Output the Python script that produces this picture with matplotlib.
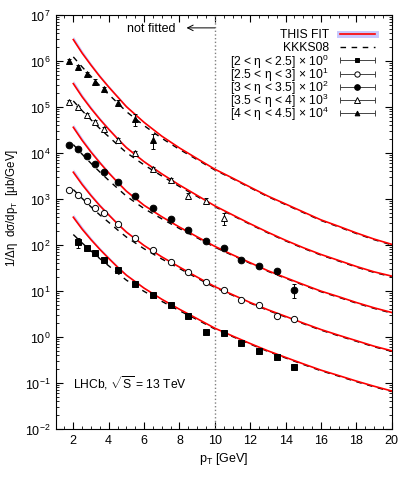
import numpy as np
import matplotlib
matplotlib.use('Agg')
import matplotlib.pyplot as plt
from matplotlib.ticker import MultipleLocator, LogLocator, NullFormatter

plt.rcParams['font.family'] = ['Liberation Sans', 'DejaVu Sans']
plt.rcParams['mathtext.fontset'] = 'custom'
plt.rcParams['mathtext.rm'] = 'Liberation Sans'
plt.rcParams['mathtext.it'] = 'Liberation Sans:italic'
plt.rcParams['mathtext.bf'] = 'Liberation Sans:bold'

# data points, values as plotted (already multiplied by 10^k)
pt_g1 = [2.25, 2.75, 3.25, 3.75, 4.5, 5.5, 6.5, 7.5, 8.5, 9.5, 10.5, 11.5, 12.5, 13.5, 14.5]
g1 = [115, 85, 66, 47, 29, 14.2, 8.3, 5.0, 2.9, 1.26, 1.2, 0.73, 0.50, 0.37, 0.22]
g1_err = [0.25, 0.12, 0.1, 0.08, 0.06, 0.06, 0.06, 0.06, 0.06, 0.06, 0.06, 0.08, 0.08, 0.1, 0.15]

pt_g2 = [1.75, 2.25, 2.75, 3.25, 3.75, 4.5, 5.5, 6.5, 7.5, 8.5, 9.5, 10.5, 11.5, 12.5, 13.5, 14.5]
g2 = [1600, 1230, 910, 630, 500, 280, 140, 79, 42, 26, 15.5, 10.3, 6.5, 5.0, 2.9, 2.45]
g2_err = [0.06] * 16

pt_g3 = [1.75, 2.25, 2.75, 3.25, 3.75, 4.5, 5.5, 6.5, 7.5, 8.5, 9.5, 10.5, 11.5, 12.5, 13.5, 14.5]
g3 = [15000, 12000, 8400, 5800, 3900, 2300, 1170, 630, 370, 210, 124, 85, 47, 35, 27, 10.7]
g3_err = [0.05] * 14 + [0.12, 0.35]

pt_g4 = [1.75, 2.25, 2.75, 3.25, 3.75, 4.5, 5.5, 6.5, 7.5, 8.5, 9.5, 10.5]
g4 = [130000, 98000, 68000, 47000, 33000, 19500, 10000, 4500, 2600, 1170, 910, 380]
g4_err = [0.06, 0.06, 0.08, 0.1, 0.08, 0.1, 0.1, 0.12, 0.12, 0.15, 0.15, 0.3]

pt_g5 = [1.75, 2.25, 2.75, 3.25, 3.75, 4.5, 5.5, 6.5]
g5 = [1.0e6, 7.3e5, 5.2e5, 3.5e5, 2.4e5, 1.2e5, 5.5e4, 1.9e4]
g5_err = [0.08, 0.12, 0.1, 0.15, 0.1, 0.15, 0.3, 0.35]

# curves
pt_fit = [2, 2.5, 3, 3.5, 4, 4.5, 5, 6, 7, 8, 9, 10, 11, 12, 13, 14, 15, 16, 17, 18, 19, 20]
fit_g1 = [400, 220, 130, 80, 51, 33, 22, 11.5, 6.6, 4.0, 2.5, 1.55, 1.05, 0.72, 0.50, 0.36, 0.26, 0.19, 0.145, 0.11, 0.085, 0.067]
fit_g2 = [3800, 2050, 1180, 710, 450, 287, 190, 97, 55, 33, 20, 12.4, 8.3, 5.6, 3.9, 2.8, 2.0, 1.45, 1.09, 0.83, 0.63, 0.50]
fit_g3 = [36000, 18700, 10400, 6100, 3670, 2300, 1470, 725, 410, 244, 150, 93, 61, 41, 27.5, 19.4, 13.8, 9.9, 7.5, 5.6, 4.3, 3.4]
fit_g4 = [3.2e5, 1.65e5, 9.2e4, 5.36e4, 3.26e4, 2.03e4, 1.3e4, 6440, 3500, 2000, 1190, 705, 450, 288, 188, 126, 87, 62, 46, 34, 26, 21]
fit_g5 = [2.9e6, 1.47e6, 8.06e5, 4.56e5, 2.7e5, 1.65e5, 1.01e5, 4.6e4, 2.31e4, 1.28e4, 7500, 4420, 2835, 1800, 1150, 774, 520, 350, 254, 182, 134, 103]
# uncertainty band (relative) of the fit
band_rel = [0.18, 0.15, 0.12, 0.10, 0.09, 0.08, 0.07, 0.05, 0.04, 0.03, 0.03, 0.02, 0.02, 0.02, 0.02, 0.02, 0.02, 0.02, 0.02, 0.02, 0.02, 0.02]
# KKKS08 relative to the fit
kkks_ratio = [0.42, 0.50, 0.57, 0.63, 0.69, 0.74, 0.78, 0.85, 0.90, 0.93, 0.95, 0.96, 0.97, 0.97, 0.97, 0.97, 0.97, 0.97, 0.97, 0.97, 0.97, 0.97]

labels = ['[2 < η < 2.5] × 10$^0$', '[2.5 < η < 3] × 10$^1$', '[3 < η < 3.5] × 10$^2$',
          '[3.5 < η < 4] × 10$^3$', '[4 < η < 4.5] × 10$^4$']

groups = [(pt_g1, g1, g1_err, fit_g1, 's', 'k', 4.2),
          (pt_g2, g2, g2_err, fit_g2, 'o', 'white', 4.5),
          (pt_g3, g3, g3_err, fit_g3, 'o', 'k', 4.8),
          (pt_g4, g4, g4_err, fit_g4, '^', 'white', 4.5),
          (pt_g5, g5, g5_err, fit_g5, '^', 'k', 4.0)]

band_col = '#c8c8ff'

fig = plt.figure(figsize=(4.15, 4.85), dpi=100)
ax = fig.add_axes([0.134, 0.1134, 0.81, 0.854])

pf = np.array(pt_fit)
band = np.array(band_rel)
ratio = np.array(kkks_ratio)
for pt, y, err, fit, mk, fc, ms in groups:
    fit = np.array(fit)
    ax.fill_between(pf, fit * (1 - band * 0.4), fit * (1 + band), color=band_col, lw=0, zorder=1)
    ax.plot(pf, fit * ratio, color='k', lw=1.0, dashes=(4, 4), zorder=2)
    ax.plot(pf, fit, color='red', lw=1.2, zorder=3)
    y = np.array(y)
    ax.errorbar(pt, y, yerr=y * np.array(err), fmt=mk, mfc=fc, mec='k', mew=0.7, ms=ms,
                ecolor='k', elinewidth=0.7, capsize=1.5, zorder=4)

ax.axvline(10, color='gray', ls=':', lw=1)
ax.text(7.8, 5.2e6, 'not fitted', ha='right', va='center', fontsize=9)
ax.annotate('', xy=(8.4, 5.2e6), xytext=(10, 5.2e6),
            arrowprops=dict(arrowstyle='->', color='k', lw=0.7, shrinkA=0, shrinkB=0))
ax.text(2.0, 0.105, r'LHCb, $\sqrt{\mathrm{S}}$ = 13 TeV', ha='left', va='center', fontsize=8.7)

ax.set_yscale('log')
ax.set_xlim(1, 20)
ax.set_ylim(1e-2, 1e7)
ax.set_xticks(range(2, 21, 2))
ax.xaxis.set_minor_locator(MultipleLocator(0.5))
ax.yaxis.set_major_locator(LogLocator(base=10, numticks=12))
ax.yaxis.set_minor_locator(LogLocator(base=10, subs=np.arange(2, 10), numticks=12))
ax.yaxis.set_minor_formatter(NullFormatter())
ax.tick_params(which='both', direction='in', top=True, right=True, labelsize=9)
ax.tick_params(which='major', length=5)
ax.tick_params(which='minor', length=2.5)
ax.set_xlabel('p$_\\mathrm{T}$ [GeV]', fontsize=9, labelpad=3)
ax.set_ylabel('1/Δη  dσ/dp$_\\mathrm{T}$  [μb/GeV]', fontsize=8.3)
ax.yaxis.set_label_coords(-0.106, 0.536)

# legend drawn by hand, gnuplot style (text right aligned, sample on the right)
tx, x0, x1 = 0.813, 0.846, 0.950
xm = (x0 + x1) / 2
def row_y(i):
    return 1 - (35 + 13.2 * i - 15.7) / 414.3

legend_labels = ['THIS FIT', 'KKKS08'] + labels
for i, lab in enumerate(legend_labels):
    ax.text(tx, row_y(i), lab, transform=ax.transAxes, ha='right', va='center', fontsize=8.7)
yy = row_y(0)
ax.plot([x0, x1], [yy, yy], transform=ax.transAxes, color=band_col, lw=5, clip_on=False)
ax.plot([x0, x1], [yy, yy], transform=ax.transAxes, color='red', lw=1.2, clip_on=False)
yy = row_y(1)
ax.plot([x0, x1], [yy, yy], transform=ax.transAxes, color='k', lw=1.0, dashes=(4, 4), clip_on=False)
for i, (pt, y, err, fit, mk, fc, ms) in enumerate(groups):
    yy = row_y(i + 2)
    ax.plot([x0, x1], [yy, yy], transform=ax.transAxes, color='#444444', lw=0.7,
            marker='|', ms=4, mew=0.7, clip_on=False)
    ax.plot([xm], [yy], transform=ax.transAxes, ls='none', marker=mk, mfc=fc, mec='k',
            mew=0.7, ms=ms * 0.85, clip_on=False)

fig.savefig('out.png', dpi=100)
